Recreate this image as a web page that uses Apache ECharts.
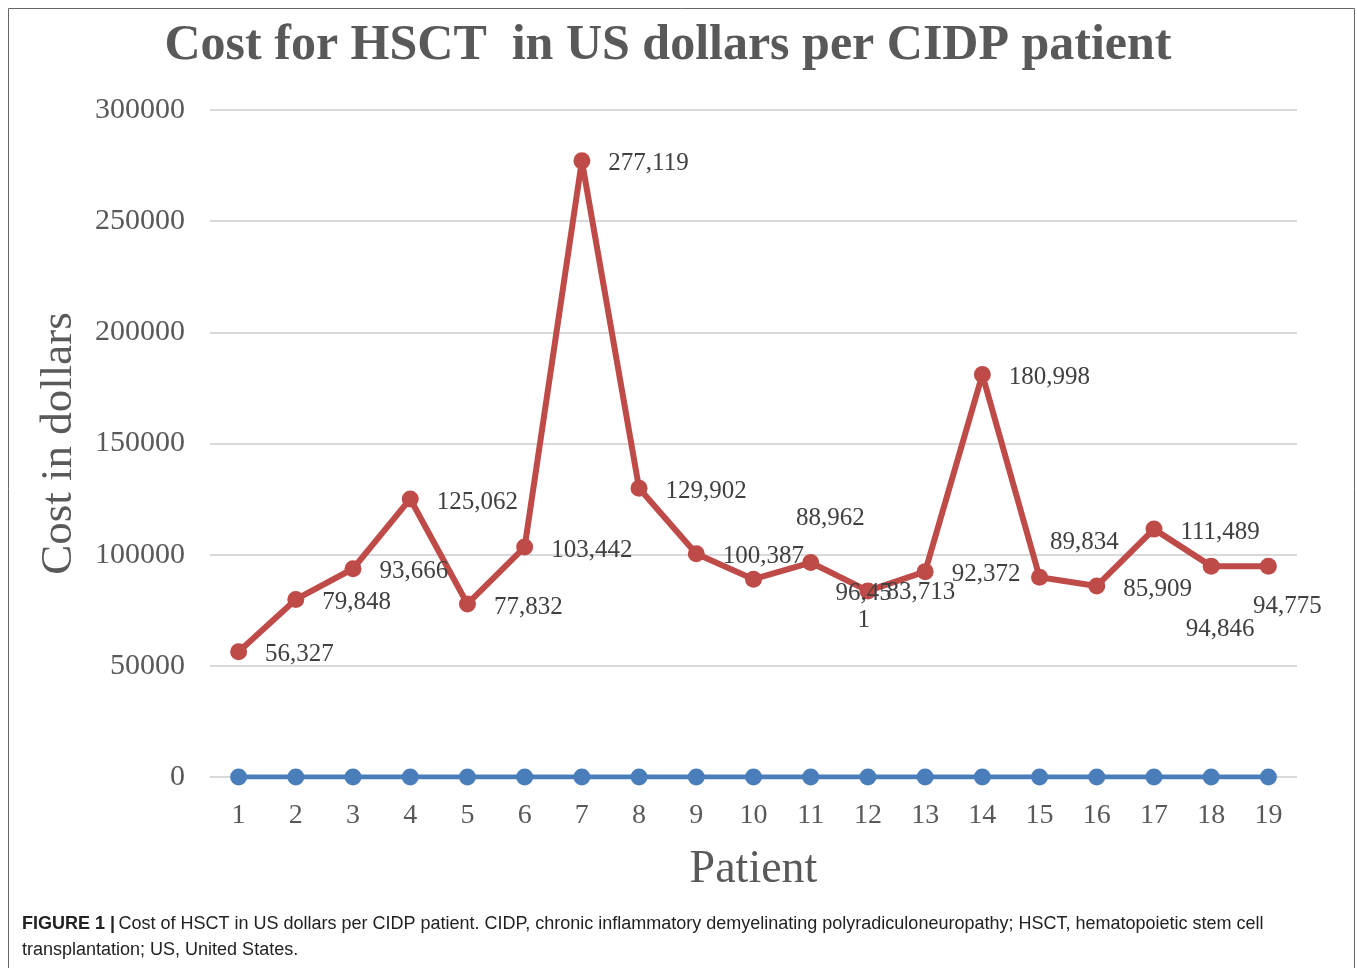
<!DOCTYPE html>
<html><head><meta charset="utf-8">
<script src="https://cdn.jsdelivr.net/npm/echarts@6/dist/echarts.min.js"></script>
<style>html,body{margin:0;padding:0;background:#fff}#c{width:1357px;height:968px}</style>
</head><body><div id="c"></div>
<script>
const patients = ['1','2','3','4','5','6','7','8','9','10','11','12','13','14','15','16','17','18','19'];
const costHSCT = [56327,79848,93666,125062,77832,103442,277119,129902,100387,88962,96451,83713,92372,180998,89834,85909,111489,94846,94775];
const baseline = [0,0,0,0,0,0,0,0,0,0,0,0,0,0,0,0,0,0,0];
const yTicks = [0,50000,100000,150000,200000,250000,300000];

// label placement tweaks (styling only)
const labelOffsets = {9:[16,-61], 11:[-8,2], 14:[-16,-35], 17:[-52,63], 18:[-42,40]};
const wrappedLabel = {10:{offset:[53,44], width:60}};

const serif = '"Liberation Serif", "DejaVu Serif", serif';
const sans = '"Liberation Sans", Arial, sans-serif';
const grey = '#595959';

const redData = costHSCT.map((v,i)=>{
  const item = {value:v};
  if (labelOffsets[i]) item.label = {offset: labelOffsets[i]};
  if (wrappedLabel[i]) item.label = {position:'inside', offset: wrappedLabel[i].offset,
      width: wrappedLabel[i].width, overflow:'breakAll', align:'center', verticalAlign:'middle', lineHeight:27};
  return item;
});

const chart = echarts.init(document.getElementById('c'));
chart.setOption({
  backgroundColor:'#fff',
  animation:false,
  title:{text:'Cost for HSCT  in US dollars per CIDP patient', left:663, textAlign:'center', top:16,
    textStyle:{fontFamily:serif, fontWeight:'bold', fontSize:50, color:grey}},
  grid:{left:210, right:60, top:110, bottom:191},
  xAxis:{type:'category', data:patients, boundaryGap:true,
    axisLine:{show:false}, axisTick:{show:false},
    axisLabel:{fontFamily:serif, fontSize:28, color:grey, margin:25},
    name:'Patient', nameLocation:'middle', nameGap:70,
    nameTextStyle:{fontFamily:serif, fontSize:46, color:grey}},
  yAxis:{type:'value', min:0, max:300000, interval:50000,
    axisLine:{show:false}, axisTick:{show:false},
    axisLabel:{fontFamily:serif, fontSize:30, color:grey, margin:25,
      formatter:v=>yTicks.includes(v)?String(v):''},
    splitLine:{lineStyle:{color:'#d9d9d9', width:2}},
    name:'Cost in dollars', nameLocation:'middle', nameGap:128, nameRotate:90,
    nameTextStyle:{fontFamily:serif, fontSize:45, color:grey}},
  series:[
    {type:'line', data:baseline, color:'#4a7ebb', symbol:'circle', symbolSize:17,
     lineStyle:{width:5, color:'#4a7ebb'}, itemStyle:{color:'#4a7ebb'}, z:2},
    {type:'line', data:redData, color:'#be4b48', symbol:'circle', symbolSize:17,
     lineStyle:{width:6, color:'#be4b48'}, itemStyle:{color:'#be4b48'}, z:3,
     label:{show:true, position:'right', distance:18, offset:[0,3],
       fontFamily:serif, fontSize:25, color:'#404040',
       formatter:p=>p.value.toLocaleString('en-US')}}
  ],
  graphic:[
    {type:'rect', shape:{x:8.5,y:8.5,width:1346,height:970}, style:{fill:null, stroke:'#666', lineWidth:1}, silent:true},
    {type:'text', left:22, top:915, style:{rich:{b:{fontWeight:'bold',fontFamily:sans,fontSize:18,fill:'#222'},n:{fontFamily:sans,fontSize:18,fill:'#222'}},
      text:'{b|FIGURE 1 |} {n|Cost of HSCT in US dollars per CIDP patient. CIDP, chronic inflammatory demyelinating polyradiculoneuropathy; HSCT, hematopoietic stem cell}'}},
    {type:'text', left:22, top:941, style:{fontFamily:sans, fontSize:18, fill:'#222',
      text:'transplantation; US, United States.'}}
  ]
});
</script></body></html>
